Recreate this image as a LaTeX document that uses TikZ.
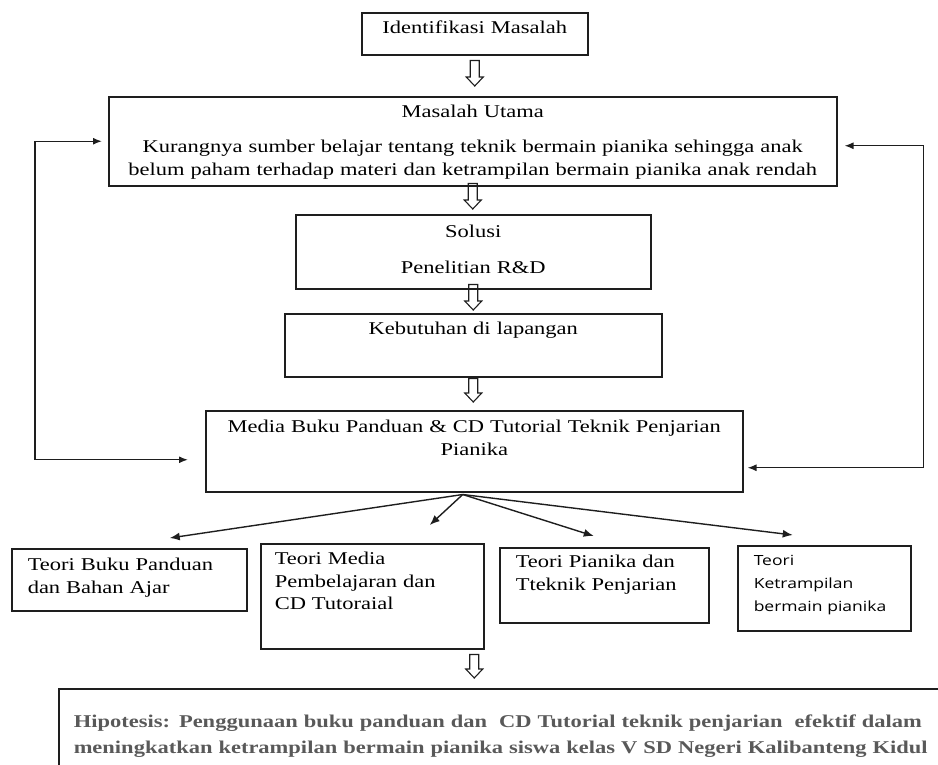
\documentclass[tikz,border=0pt]{standalone}
\usepackage{fontspec}
\setmainfont[FakeStretch=1.25]{Liberation Serif}
\newfontfamily\ketfont[FakeStretch=1.25]{Open Sans}
\usepackage{xcolor}
\usepackage{tikz}
\usetikzlibrary{arrows.meta,calc}
\definecolor{hipogray}{RGB}{89,89,89}
\definecolor{linegray}{RGB}{30,30,30}
\tikzset{
  box/.style={
    draw=linegray,
    line width=1.5pt,
    anchor=north west,
    inner xsep=5pt,
    inner ysep=0pt,
    align=center,
    font=\fontsize{18}{22.5}\selectfont
  },
  theory/.style={box, align=left, inner xsep=16pt},
  hipo/.style={box, align=left, inner xsep=15pt, text=hipogray,
    font=\fontsize{18}{26}\selectfont\bfseries},
  hollow/.style={draw=linegray, line width=1.1pt, to path={
      let \p1=(\tikztostart), \p2=(\tikztotarget) in
      (\x1-4.5pt,\y1) -- (\x1-4.5pt,\y2+9pt) -- (\x1-8.5pt,\y2+9pt) -- (\x1,\y2)
      -- (\x1+8.5pt,\y2+9pt) -- (\x1+4.5pt,\y2+9pt) -- (\x1+4.5pt,\y1) -- cycle}},
  sig/.style={-{Latex[length=10pt,width=8pt]}, line width=1.4pt, draw=linegray},
  fb/.style={{Latex[length=9pt,width=7pt]}-{Latex[length=9pt,width=7pt]},
    line width=1.4pt, draw=linegray}
}

\begin{document}
\begin{tikzpicture}[x=1pt,y=-1pt]
    \useasboundingbox (0,0) rectangle (938,764);
    \clip (0,0) rectangle (938,764);

    \node[box, text width=216pt, text height=21pt, text depth=21pt] (idm) at (361,12)
      {Identifikasi Masalah};
    \node[box, text width=718pt, text height=21pt, text depth=68pt] (masalah) at (108,96)
      {Masalah Utama\\[12.5pt]
       Kurangnya sumber belajar tentang teknik bermain pianika sehingga anak\\
       belum paham terhadap materi dan ketrampilan bermain pianika anak rendah};
    \node[box, text width=345pt, text height=23pt, text depth=51pt] (solusi) at (295,214)
      {Solusi\\[13.5pt]Penelitian R\&D};
    \node[box, text width=367pt, text height=21pt, text depth=42pt] (kebutuhan) at (284,313)
      {Kebutuhan di lapangan};
    \node[box, text width=527pt, text height=22pt, text depth=59pt] (media) at (205,410)
      {Media Buku Panduan \& CD Tutorial Teknik Penjarian\\Pianika};

    \node[theory, text width=203pt, text height=22pt, text depth=40pt] (tbuku) at (11,548)
      {Teori Buku Panduan\\dan Bahan Ajar};
    \node[theory, inner xsep=14pt, text width=195pt, text height=21pt, text depth=84pt] (tmedia) at (260,543)
      {Teori Media\\Pembelajaran dan\\CD Tutoraial};
    \node[theory, text width=177pt, text height=20pt, text depth=55pt] (tpianika) at (499,547)
      {Teori Pianika dan\\Tteknik Penjarian};
    \node[theory, text width=141pt, text height=20pt, text depth=65pt,
      font=\ketfont\fontsize{14}{23}\selectfont] (tket) at (737,545)
      {Teori\\Ketrampilan\\bermain pianika};

    \node[hipo, text width=880pt, text height=39pt, text depth=90pt] (hipotesis) at (58,688)
      {Hipotesis: Penggunaan buku panduan dan\ \ CD Tutorial teknik penjarian\ \ efektif dalam\\
       meningkatkan ketrampilan bermain pianika siswa kelas V SD Negeri Kalibanteng Kidul};

    \draw[hollow] ([yshift=-5pt]idm.south) to ([yshift=10pt]masalah.north);
    \draw[hollow] ([yshift=3pt]masalah.south) to ([yshift=5pt]solusi.north);
    \draw[hollow] ([yshift=5pt]solusi.south) to ([yshift=3pt]kebutuhan.north);
    \draw[hollow] ([yshift=-1pt]kebutuhan.south) to ([yshift=8pt]media.north);
    \draw[hollow] ([yshift=-5pt]tmedia.south -| media.south) to ([yshift=10pt]hipotesis.north);

    \coordinate (fan) at ([xshift=-11.5pt,yshift=-2pt]media.south);
    \draw[sig] (fan) -- ([xshift=40.5pt,yshift=10pt]tbuku.north);
    \draw[sig] (fan) -- ([xshift=57.5pt,yshift=18pt]tmedia.north);
    \draw[sig] (fan) -- ([xshift=-10.5pt,yshift=11pt]tpianika.north);
    \draw[sig] (fan) -- ([xshift=-31.5pt,yshift=10pt]tket.north);

    \draw[fb] ([xshift=-6pt]masalah.west) -- ++(-67,0) |- ([xshift=-17pt,yshift=-8.5pt]media.west);
    \draw[fb] ([xshift=7pt,yshift=-4.5pt]masalah.east) -- ++(79,0) |- ([xshift=4pt,yshift=-16.5pt]media.east);
\end{tikzpicture}
\end{document}
